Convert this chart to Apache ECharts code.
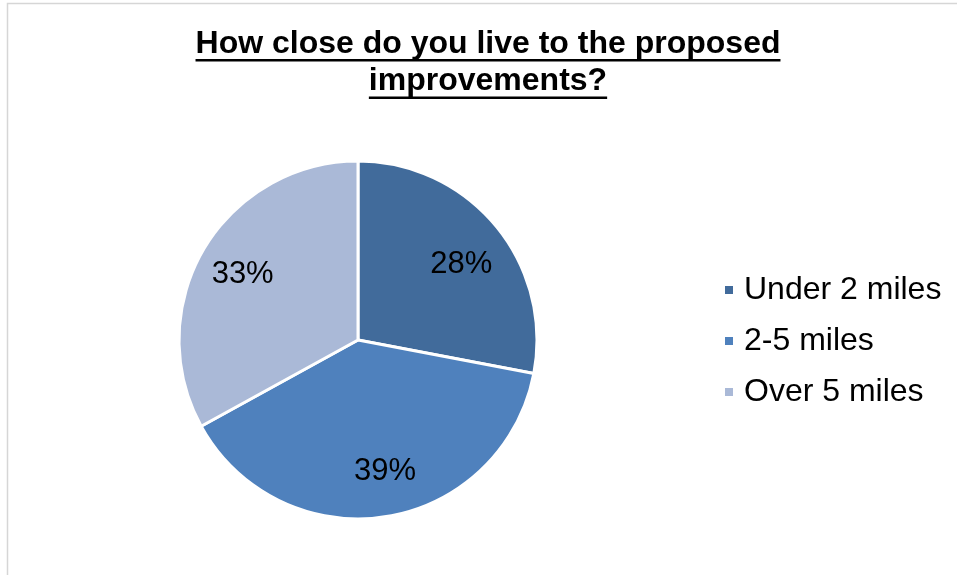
<!DOCTYPE html>
<html>
<head>
<meta charset="utf-8">
<script src="https://cdn.jsdelivr.net/npm/echarts@6/dist/echarts.min.js"></script>
<style>
  html, body { margin: 0; padding: 0; background: #ffffff; }
  #chart { width: 957px; height: 575px; }
</style>
</head>
<body>
<div id="chart"></div>
<script>
// Survey answers: distance from the proposed improvements (percent of respondents)
const titleLines = ['How close do you live to the proposed', 'improvements?'];
const categories = ['Under 2 miles', '2-5 miles', 'Over 5 miles'];
const shares = [28, 39, 33];
const sliceColors = ['#416B9B', '#4F81BD', '#AAB9D7'];

// small nudges of the percentage labels away from the exact ring midpoint
const labelNudges = [[0, 10], [6, -1], [0, 3]];

const FONT = 'Arial, "Liberation Sans", sans-serif';
const titleSize = 32;
const titleLineHeight = 37.5;
const titleCenterX = 488;
const titleTop = 25;

// measure title lines so the underlines follow the text width
const measureCtx = document.createElement('canvas').getContext('2d');
measureCtx.font = 'bold ' + titleSize + 'px ' + FONT;
const underlines = titleLines.map(function (line, i) {
  const w = measureCtx.measureText(line).width;
  return {
    type: 'rect',
    shape: { x: titleCenterX - w / 2, y: titleTop + titleLineHeight * (i + 1) - 3.5, width: w, height: 2.6 },
    style: { fill: '#000000' },
    silent: true
  };
});

const pieData = categories.map(function (name, i) {
  return { name: name, value: shares[i] };
});
const labelData = categories.map(function (name, i) {
  return { name: name, value: shares[i], label: { offset: labelNudges[i] } };
});

const chart = echarts.init(document.getElementById('chart'), null, { renderer: 'canvas' });
chart.setOption({
  animation: false,
  backgroundColor: '#ffffff',
  color: sliceColors,
  title: {
    text: titleLines.join('\n'),
    left: titleCenterX,
    top: titleTop,
    padding: 0,
    textAlign: 'center',
    textStyle: {
      fontFamily: FONT,
      fontSize: titleSize,
      fontWeight: 'bold',
      color: '#000000',
      lineHeight: titleLineHeight
    }
  },
  legend: {
    orient: 'vertical',
    left: 723,
    top: 274,
    padding: 0,
    itemWidth: 10,
    itemHeight: 10,
    itemGap: 19,
    icon: 'rect',
    selectedMode: false,
    data: categories,
    textStyle: {
      fontFamily: FONT,
      fontSize: 32,
      color: '#000000',
      padding: [0, 0, 0, 5]
    }
  },
  graphic: [
    {
      type: 'rect',
      shape: { x: 7.5, y: 3.5, width: 1000, height: 1000 },
      style: { fill: 'none', stroke: '#d6d6d6', lineWidth: 1.5 },
      silent: true
    }
  ].concat(underlines),
  series: [
    {
      type: 'pie',
      center: [358, 340],
      radius: [0, 179],
      startAngle: 90,
      clockwise: true,
      silent: true,
      label: { show: false },
      labelLine: { show: false },
      itemStyle: { borderColor: '#ffffff', borderWidth: 3 },
      emphasis: { disabled: true },
      data: pieData
    },
    {
      // transparent ring carrying the percentage labels
      type: 'pie',
      center: [358, 340],
      radius: [83, 179],
      startAngle: 90,
      clockwise: true,
      silent: true,
      itemStyle: { color: 'rgba(0,0,0,0)', borderWidth: 0 },
      emphasis: { disabled: true },
      label: {
        show: true,
        position: 'inside',
        formatter: '{c}%',
        fontFamily: FONT,
        fontSize: 31,
        color: '#000000'
      },
      labelLine: { show: false },
      data: labelData
    }
  ]
});
</script>
</body>
</html>
